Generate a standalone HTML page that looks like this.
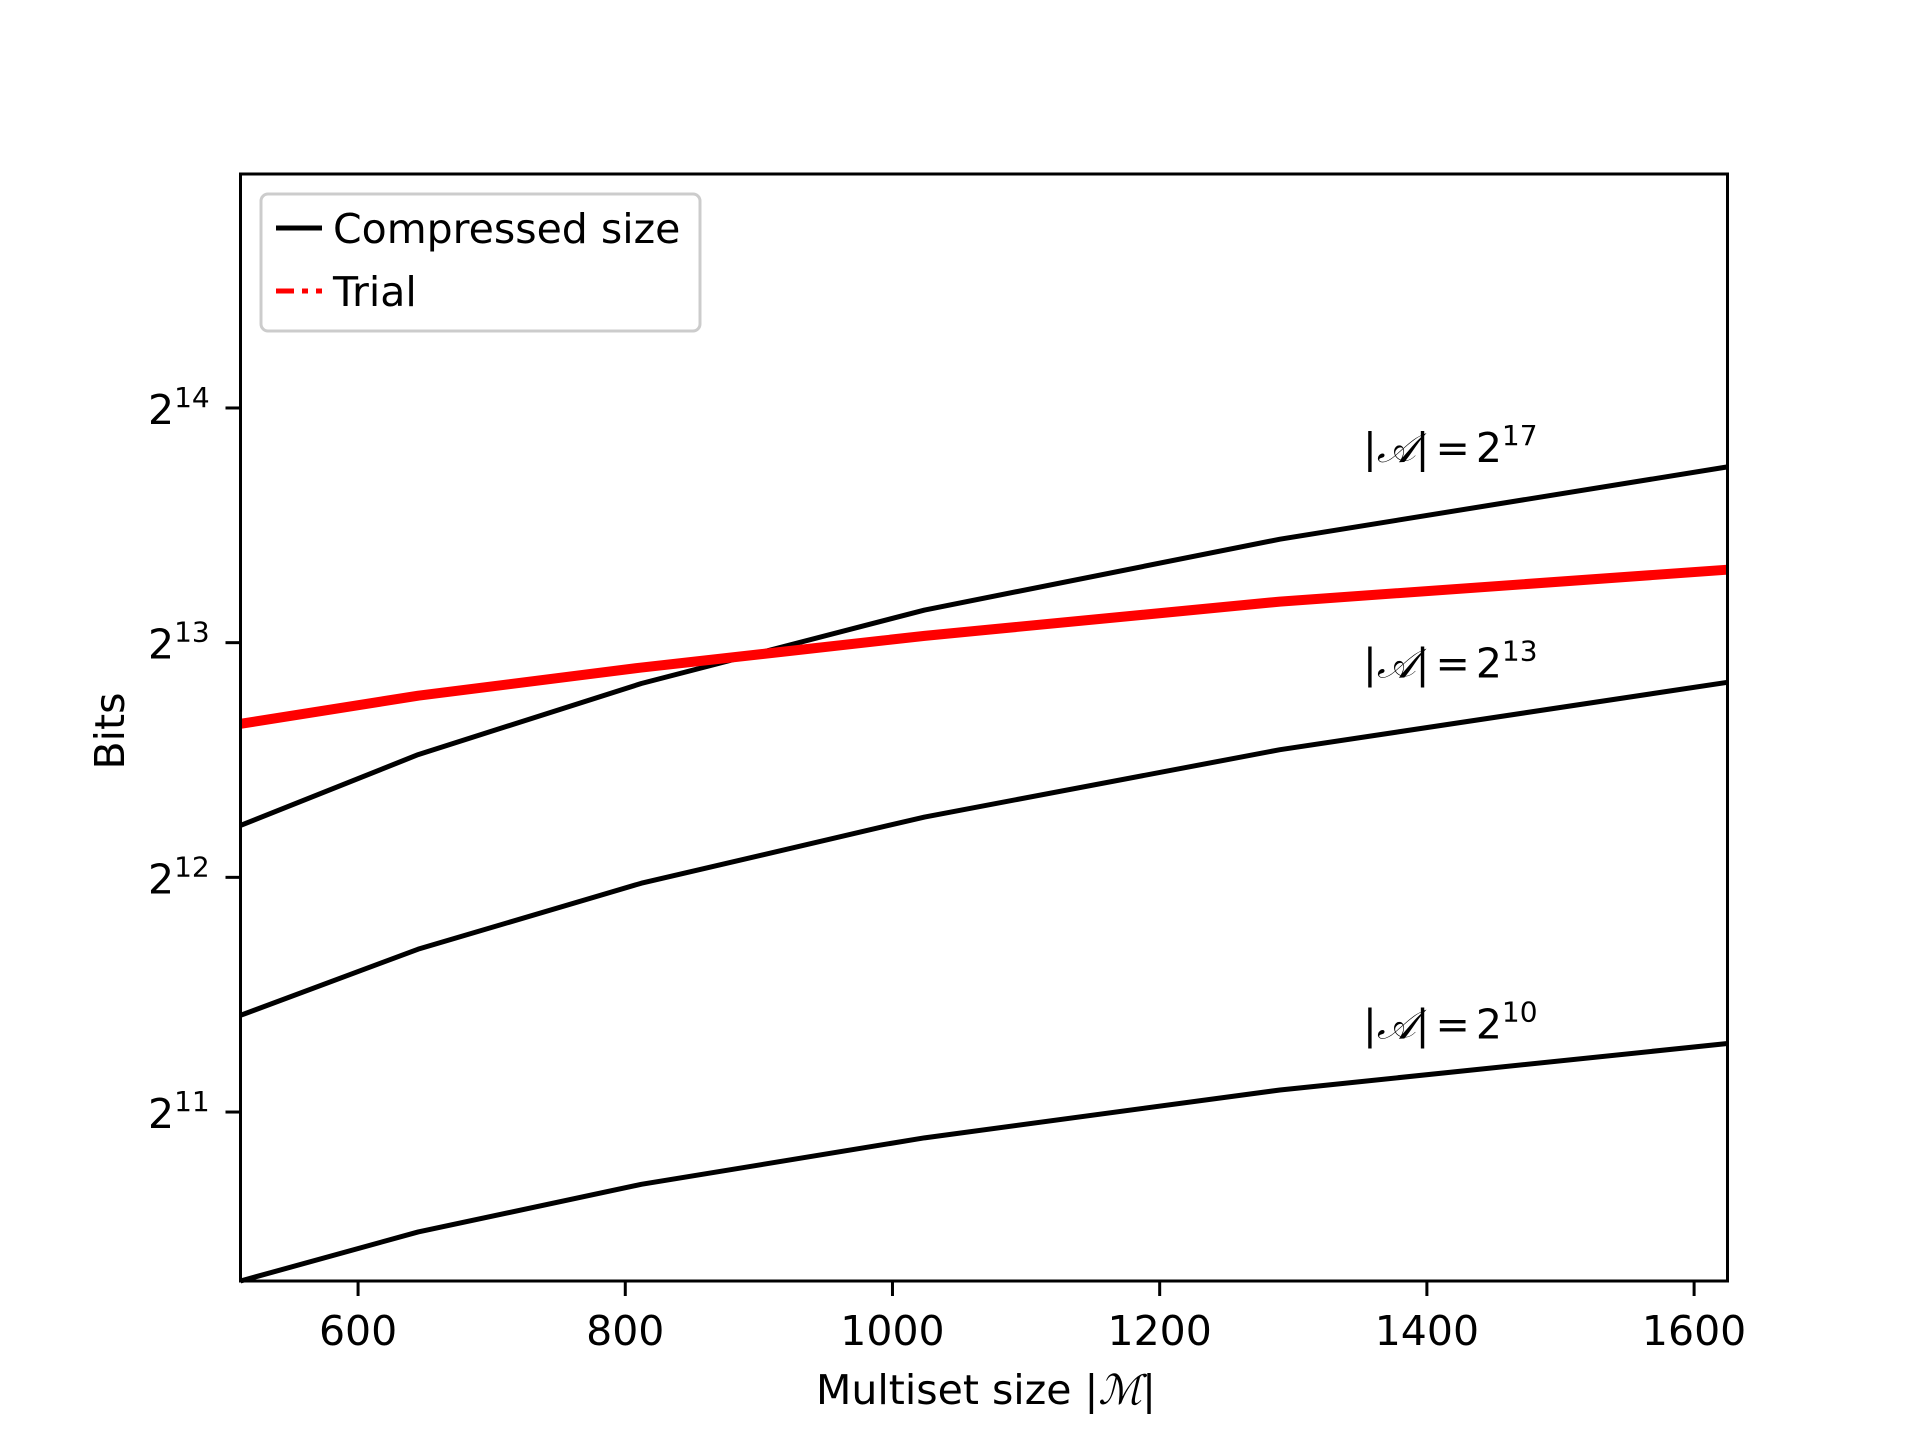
<!DOCTYPE html>
<html><head><meta charset="utf-8"><style>
html,body{margin:0;padding:0;background:#fff;}
svg{display:block;font-family:"DejaVu Sans","Liberation Sans",sans-serif;}
</style></head><body>
<svg id="chart" width="1920" height="1440" viewBox="0 0 1920 1440" xmlns="http://www.w3.org/2000/svg">
<rect width="1920" height="1440" fill="#fff"/>
<g id="plot"></g>
<rect x="240.5" y="174" width="1487" height="1107" fill="none" stroke="#000" stroke-width="3"/>
<g>
<rect x="261" y="194" width="439" height="137" rx="7" fill="#fff" fill-opacity="0.8" stroke="#ccc" stroke-width="3"/>
<line x1="276" y1="228" x2="322" y2="228" stroke="#000" stroke-width="5"/>
<text x="333" y="243" font-size="41">Compressed size</text>
<line x1="276" y1="291" x2="322" y2="291" stroke="#f00" stroke-width="5" stroke-dasharray="18,8,6,8"/>
<text x="333" y="306" font-size="41">Trial</text>
</g>
<text transform="translate(124,731) rotate(-90)" text-anchor="middle" font-size="41">Bits</text>
<text x="986" y="1404" text-anchor="middle" font-size="41">Multiset size |<tspan font-family="Liberation Serif,serif" font-style="italic">ℳ</tspan>|</text>
</svg>
<script>
const xTicks = [600, 800, 1000, 1200, 1400, 1600];
const yTicks = [11, 12, 13, 14];
const xs = [512, 645, 812, 1024, 1290, 1625];
const seriesA10 = [10.28, 10.489, 10.692, 10.89, 11.094, 11.292];
const seriesA13 = [11.412, 11.694, 11.975, 12.257, 12.544, 12.831];
const seriesA17 = [12.221, 12.523, 12.826, 13.139, 13.441, 13.749];
const seriesTrial = [12.654, 12.774, 12.894, 13.029, 13.175, 13.311];
const labelNames = ["17", "13", "10"];
const labelLog = [13.749, 12.831, 11.292];

const NS = "http://www.w3.org/2000/svg";
const X0 = 240.5, X1 = 1727.5, Y0 = 1281, Y1 = 174;
const xMin = 512, xMax = 1625, yMin = 10.28, yMax = 14.997;
function sx(v){ return X0 + (v - xMin) / (xMax - xMin) * (X1 - X0); }
function sy(v){ return Y0 - (v - yMin) / (yMax - yMin) * (Y0 - Y1); }
const g = document.getElementById('plot');
function mk(tag, attrs){ const e = document.createElementNS(NS, tag); for (const k in attrs) e.setAttribute(k, attrs[k]); g.appendChild(e); return e; }

xTicks.forEach(t => {
  const l = mk('line', {x1: sx(t), x2: sx(t), y1: Y0, y2: Y0 + 15, stroke: '#000', 'stroke-width': 3});
  
  
  const tx = mk('text', {x: sx(t), y: Y0 + 64, 'text-anchor': 'middle', 'font-size': 41});
  tx.textContent = t;
  
  
});
yTicks.forEach(t => {
  const l = mk('line', {x1: X0 - 15, x2: X0, y1: sy(t), y2: sy(t), stroke: '#000', 'stroke-width': 3});
  
  
  const tx = mk('text', {x: 148, y: sy(t) + 16, 'font-size': 41});
  tx.innerHTML = '2<tspan font-size="28" dy="-17">' + t + '</tspan>';
  
  
});
function pts(arr){ return arr.map((v, i) => sx(xs[i]) + ',' + sy(v)).join(' '); }
[[seriesA17, 'line-a17'], [seriesA13, 'line-a13'], [seriesA10, 'line-a10']].forEach(([s, n]) => {
  const p = mk('polyline', {points: pts(s), fill: 'none', stroke: '#000', 'stroke-width': 5, 'stroke-linejoin': 'round'});
  
  
});
const tr = mk('polyline', {points: pts(seriesTrial), fill: 'none', stroke: '#f00', 'stroke-width': 10, 'stroke-linejoin': 'round'});


labelNames.forEach((n, i) => {
  const tx = mk('text', {x: 1363, y: sy(labelLog[i]) - 5, 'font-size': 41});
  tx.innerHTML = '|<tspan font-family="Liberation Serif,serif" font-style="italic">𝒜</tspan>|<tspan dx="6">=</tspan><tspan dx="6">2</tspan><tspan font-size="28" dy="-17">' + n + '</tspan>';
  
  
});
</script>
</body></html>
